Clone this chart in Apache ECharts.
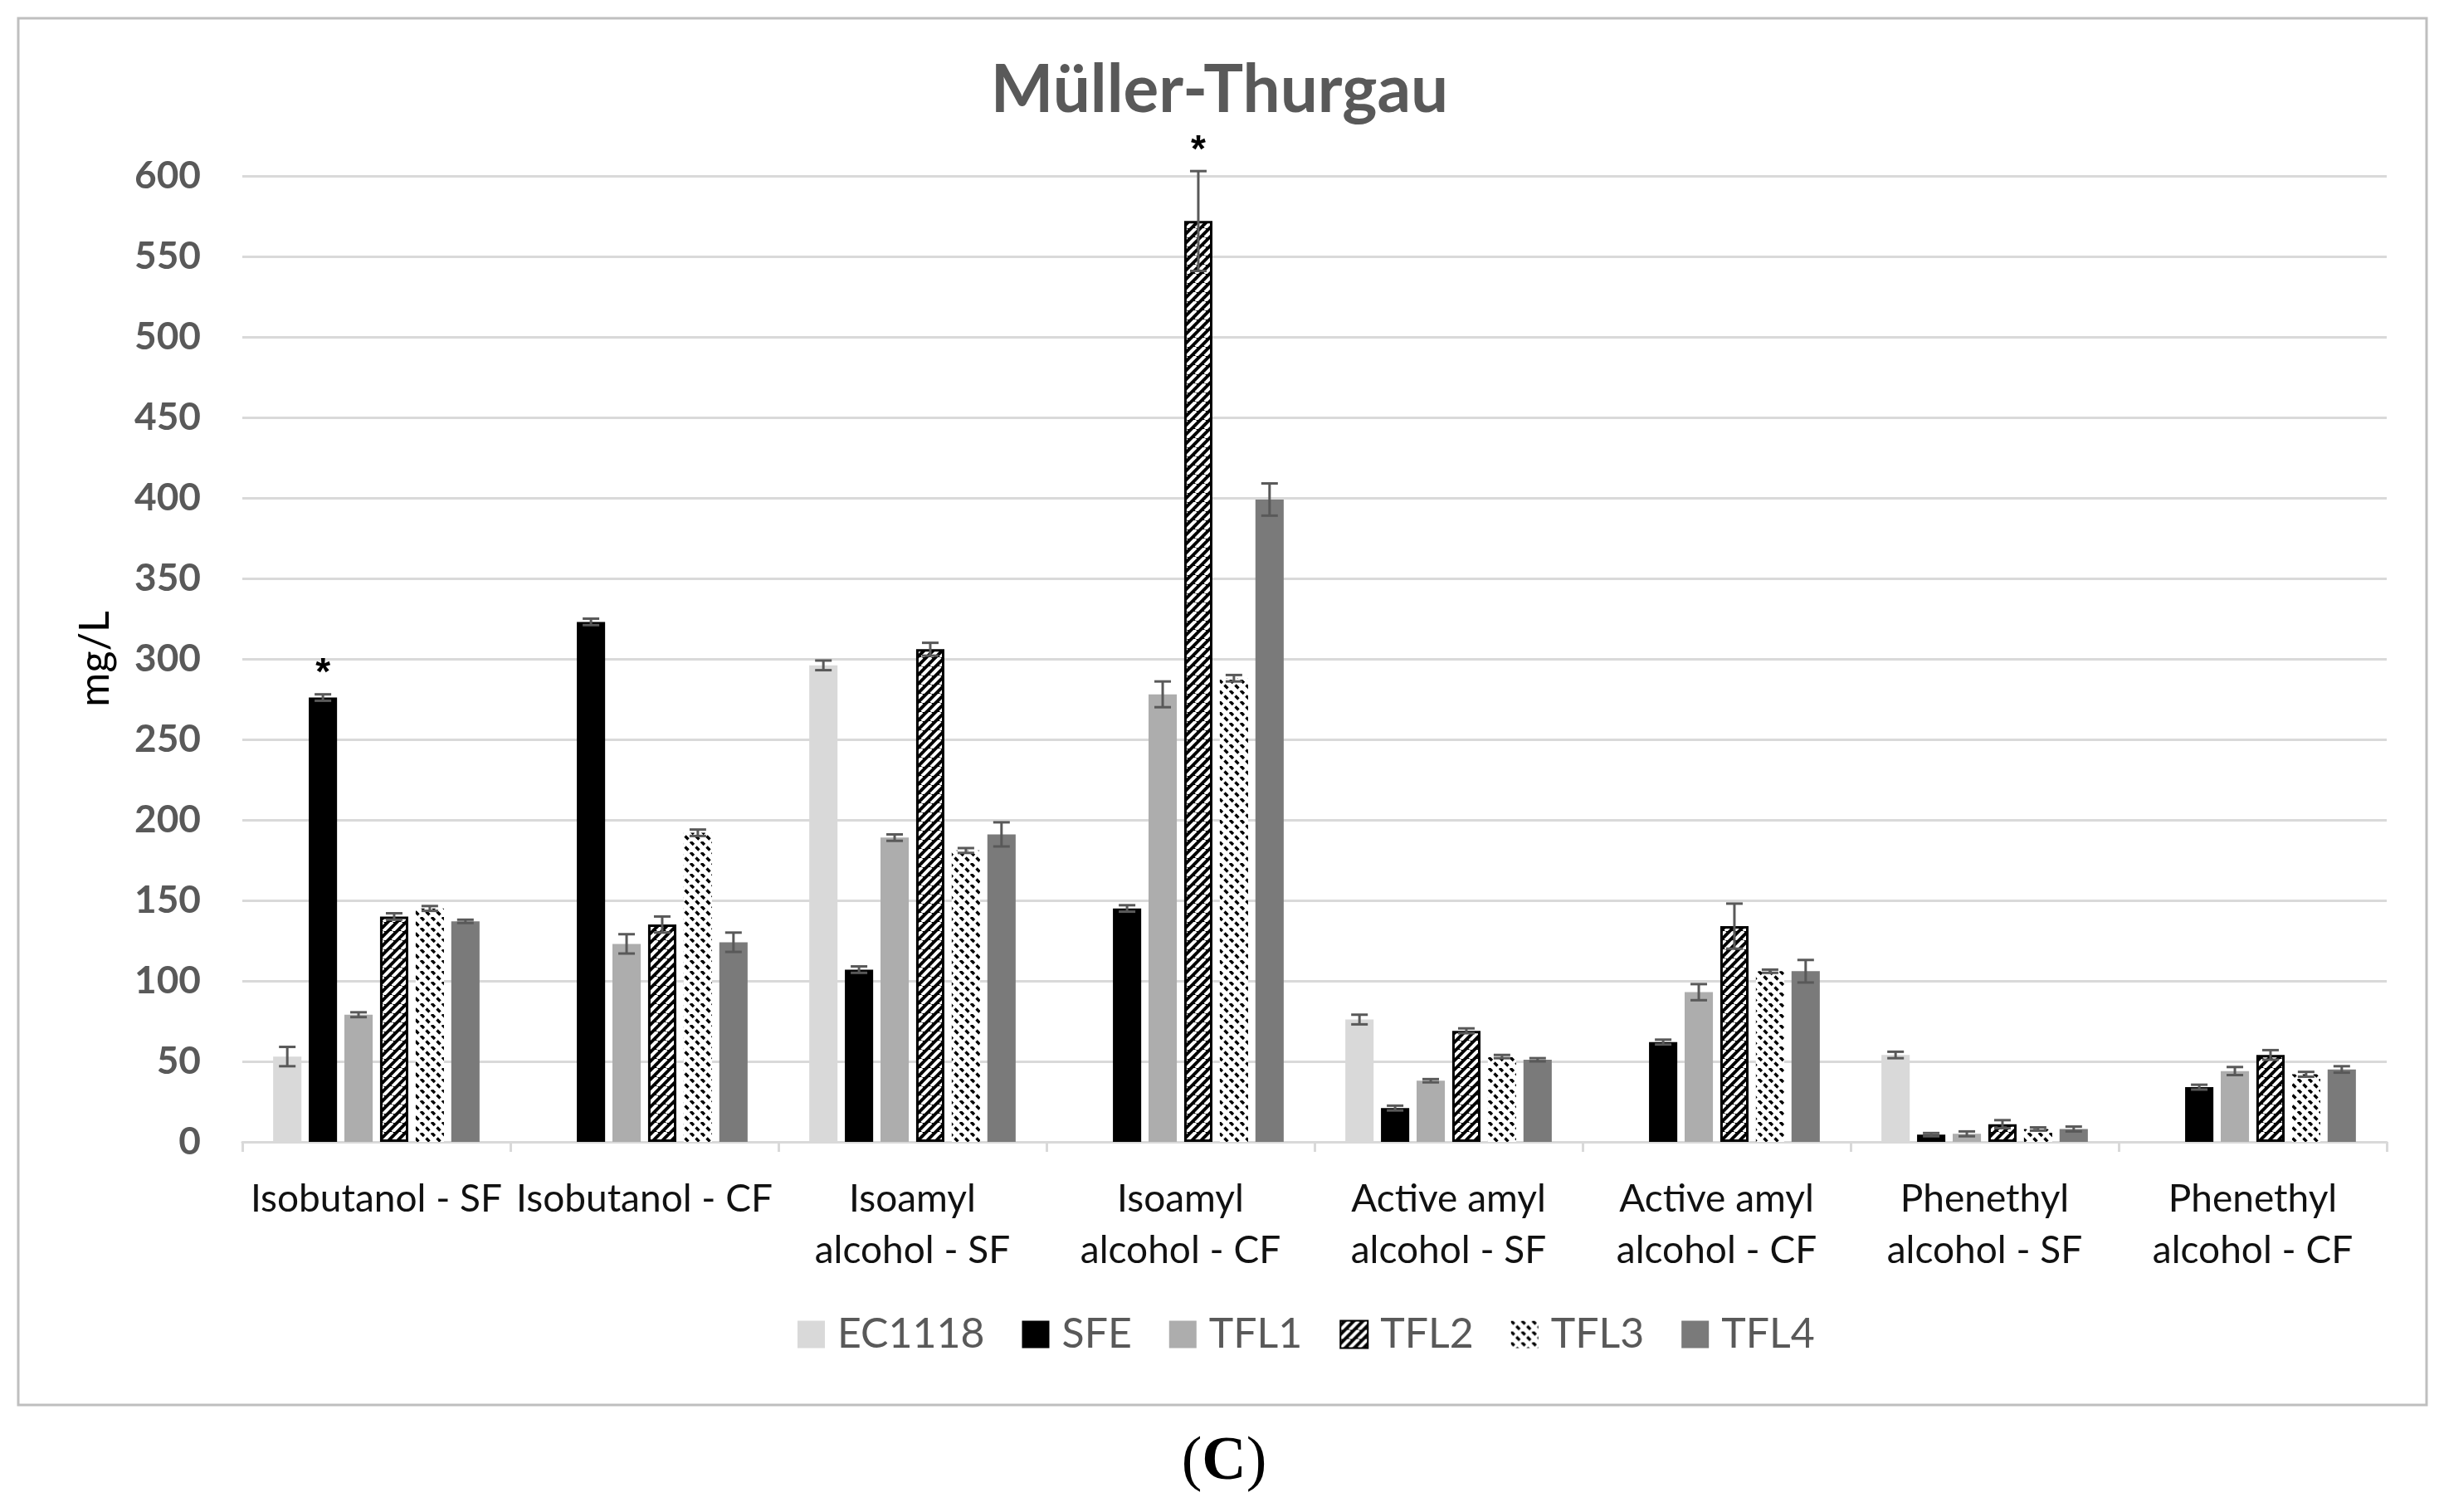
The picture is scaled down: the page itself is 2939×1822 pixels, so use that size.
<!DOCTYPE html>
<html>
<head>
<meta charset="utf-8">
<script src="https://cdn.jsdelivr.net/npm/echarts@6/dist/echarts.min.js"></script>
<style>
html,body{margin:0;padding:0;background:#fff;}
#chart{width:2939px;height:1822px;}
</style>
</head>
<body>
<div id="chart"></div>
<script>
// ---- data ----
const categories = [
  'Isobutanol - SF', 'Isobutanol - CF',
  'Isoamyl\nalcohol - SF', 'Isoamyl\nalcohol - CF',
  'Active amyl\nalcohol - SF', 'Active amyl\nalcohol - CF',
  'Phenethyl\nalcohol - SF', 'Phenethyl\nalcohol - CF'
];
const seriesNames = ['EC1118', 'SFE', 'TFL1', 'TFL2', 'TFL3', 'TFL4'];

const valEC1118 = [53, null, 296, null, 76, null, 54, null];
const valSFE    = [276, 323, 107, 145, 21, 62, 4.5, 34];
const valTFL1   = [79, 123, 189, 278, 38, 93, 5, 44];
const valTFL2   = [140, 135, 306, 572, 69, 134, 11, 54];
const valTFL3   = [145, 192, 181, 288, 53, 106, 8, 42];
const valTFL4   = [137, 124, 191, 399, 51, 106, 8, 45];

const errEC1118 = [6, null, 3, null, 3, null, 2, null];
const errSFE    = [2, 2, 2, 2, 1.5, 1.5, 1, 1.5];
const errTFL1   = [1.5, 6, 2, 8, 1, 5, 1.5, 2.5];
const errTFL2   = [2, 5, 4, 31, 1.5, 14, 2.5, 3];
const errTFL3   = [1.5, 2, 1.5, 2, 1, 1, 1, 1.5];
const errTFL4   = [1, 6, 7.5, 10, 1, 7, 1.5, 2];

// significance markers: [series index, category index]
const starMarks = [[1, 0], [3, 3]];

const yTicks = { min: 0, max: 600, interval: 50 };

const allVals = [valEC1118, valSFE, valTFL1, valTFL2, valTFL3, valTFL4];
const allErrs = [errEC1118, errSFE, errTFL1, errTFL2, errTFL3, errTFL4];

// ---- patterns ----
function stripePattern(size, bg, fg, lw, dir, dash) {
  const c = document.createElement('canvas');
  c.width = size; c.height = size;
  const g = c.getContext('2d');
  g.fillStyle = bg; g.fillRect(0, 0, size, size);
  g.strokeStyle = fg; g.lineWidth = lw;
  if (dash) g.setLineDash(dash);
  for (const o of [-size, 0, size]) {
    g.beginPath();
    if (dir === '/') { g.moveTo(o, size); g.lineTo(o + size, 0); }
    else { g.moveTo(o, 0); g.lineTo(o + size, size); }
    g.stroke();
  }
  return { image: c, repeat: 'repeat' };
}
const diag3 = 13 * Math.SQRT2;
const patTFL2 = stripePattern(11, '#000000', '#ffffff', 4, '/');
const patTFL3 = stripePattern(13, '#ffffff', '#000000', 3.4, '\\', [diag3 / 4 + 1, diag3 / 4 - 1]);

const seriesStyles = [
  { color: '#d9d9d9' },
  { color: '#000000' },
  { color: '#adadad' },
  { color: patTFL2, borderColor: '#000', borderWidth: 3 },
  { color: patTFL3 },
  { color: '#7a7a7a' }
];

const CAT_GAP = 0.23, BAR_GAP = 0.26;

const barSeries = seriesNames.map((name, s) => ({
  name, type: 'bar',
  data: allVals[s].map(v => v === null ? '-' : v),
  barGap: (BAR_GAP * 100) + '%',
  barCategoryGap: (CAT_GAP * 100) + '%',
  itemStyle: seriesStyles[s],
  emphasis: { disabled: true }
}));

const errData = [];
seriesNames.forEach((name, s) => {
  allVals[s].forEach((v, i) => {
    if (v === null) return;
    const star = starMarks.some(m => m[0] === s && m[1] === i) ? 1 : 0;
    errData.push([i, v, allErrs[s][i], s, star]);
  });
});

function renderErr(params, api) {
  const i = api.value(0), v = api.value(1), e = api.value(2), s = api.value(3), star = api.value(4);
  const band = api.size([1, 0])[0];
  const n = seriesNames.length;
  const groupW = band * (1 - CAT_GAP);
  const barW = groupW / (n + (n - 1) * BAR_GAP);
  const base = api.coord([i, v]);
  const x = base[0] - groupW / 2 + s * barW * (1 + BAR_GAP) + barW / 2;
  const yTop = api.coord([i, v + e])[1];
  const yBot = api.coord([i, Math.max(0, v - e)])[1];
  const cap = 10;
  const st = { stroke: '#595959', lineWidth: 3 };
  const children = [
    { type: 'line', shape: { x1: x, y1: yTop, x2: x, y2: yBot }, style: st },
    { type: 'line', shape: { x1: x - cap, y1: yTop, x2: x + cap, y2: yTop }, style: st },
    { type: 'line', shape: { x1: x - cap, y1: yBot, x2: x + cap, y2: yBot }, style: st }
  ];
  if (star) {
    children.push({
      type: 'text',
      style: {
        text: '*', x: x, y: yTop - 1, align: 'center', verticalAlign: 'bottom',
        fontSize: 46, fontWeight: 'bold', fontFamily: 'Liberation Sans', fill: '#000'
      }
    });
  }
  return { type: 'group', children };
}

const chart = echarts.init(document.getElementById('chart'), null, { renderer: 'canvas' });
chart.setOption({
  animation: false,
  backgroundColor: '#fff',
  title: {
    text: 'Müller-Thurgau',
    left: 'center', top: 64,
    textStyle: { fontFamily: 'Lato', fontWeight: 'bold', fontSize: 80, color: '#595959' }
  },
  legend: {
    data: seriesNames,
    left: 956, top: 1578,
    icon: 'rect', itemWidth: 33, itemHeight: 33, itemGap: 45,
    textStyle: { fontFamily: 'Lato', fontSize: 50, color: '#595959', padding: [0, 0, 0, 10] },
    selectedMode: false
  },
  grid: { left: 292, right: 63, top: 212, bottom: 446 },
  xAxis: {
    type: 'category',
    data: categories,
    axisLine: { lineStyle: { color: '#d9d9d9', width: 3 } },
    axisTick: { show: true, length: 12, lineStyle: { color: '#d9d9d9', width: 3 } },
    axisLabel: { interval: 0, fontFamily: 'Lato', fontSize: 46, lineHeight: 62, color: '#111', margin: 38 }
  },
  yAxis: {
    type: 'value',
    min: yTicks.min, max: yTicks.max, interval: yTicks.interval,
    name: 'mg/L', nameLocation: 'middle', nameRotate: 90, nameGap: 152,
    nameTextStyle: { fontFamily: 'Lato', fontSize: 50, color: '#000' },
    axisLine: { show: false },
    axisTick: { show: false },
    axisLabel: { fontFamily: 'Lato', fontWeight: 'bold', fontSize: 46, color: '#595959', margin: 50 },
    splitLine: { lineStyle: { color: '#d9d9d9', width: 3 } }
  },
  series: barSeries.concat([{
    name: 'err', type: 'custom', renderItem: renderErr, data: errData, z: 10,
    silent: true
  }]),
  graphic: [
    { type: 'rect', shape: { x: 22, y: 22, width: 2902, height: 1671 },
      style: { fill: 'none', stroke: '#bfbfbf', lineWidth: 3 }, silent: true, z: -10 },
    { type: 'text', x: 1475, y: 1763,
      style: { text: '({b|C})', fontFamily: 'Liberation Serif', fontSize: 74, fill: '#000',
        align: 'center', verticalAlign: 'middle',
        rich: { b: { fontFamily: 'Liberation Serif', fontSize: 74, fontWeight: 'bold', fill: '#000' } } } }
  ]
});
</script>
</body>
</html>
